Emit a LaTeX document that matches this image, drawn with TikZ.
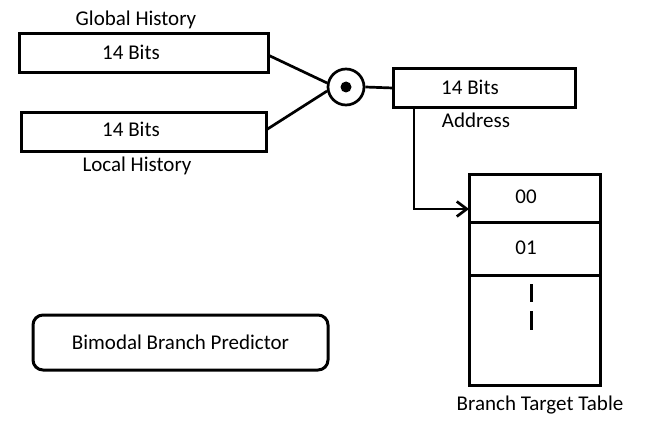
\documentclass[tikz,border=0pt]{standalone}
\usepackage{fontspec}
\setmainfont{Carlito}
\usetikzlibrary{arrows.meta}
\begin{document}
\begin{tikzpicture}[x=1pt,y=-1pt,
  box/.style={draw,line width=3pt,minimum width=#1,inner sep=0pt,outer sep=0pt},
  txt/.style={inner sep=0pt,font=\fontsize{21}{25}\selectfont},
  wire/.style={line width=2.7pt},
]
\useasboundingbox (0,0) rectangle (651,436);
% left boxes
\node[box=249pt,minimum height=39pt] (gh) at (143.5,53.5) {};
\node[txt] (ghbits) at (131,52) {14 Bits};
\node[txt] (ghlab) at (136,20) {Global History};
\node[box=245pt,minimum height=39pt] (lh) at (143.5,131.5) {};
\node[txt] (lhbits) at (131,129) {14 Bits};
\node[txt] (lhlab) at (137,166) {Local History};
% combiner
\node[draw,circle,line width=2.7pt,minimum size=36pt,inner sep=0pt] (circ) at (346,87) {};
\fill (circ.center) circle (5.5pt);
% address
\node[box=182pt,minimum height=38pt] (addr) at (484,88) {};
\node[txt] (addrbits) at (470,87) {14 Bits};
\node[txt] (addrlab) at (476,120) {Address};
% branch target table
\node[box=131pt,minimum height=48pt] (c00) at (534.5,198) {};
\node[box=131pt,minimum height=53pt] (c01) at (534.5,248.5) {};
\node[box=131pt,minimum height=110pt] (crest) at (534.5,330) {};
\node[txt] (t00) at (526,197) {00};
\node[txt] (t01) at (526,248) {01};
\draw[line width=3pt] (531,284) coordinate (d1a) -- (531,302) coordinate (d1b);
\draw[line width=3pt] (531,311) coordinate (d2a) -- (531,330) coordinate (d2b);
\node[txt] (bttlab) at (540,405) {Branch Target Table};
% bimodal
\node[draw,line width=3pt,rounded corners=10pt,minimum width=295pt,minimum height=55pt,inner sep=0pt,font=\fontsize{21}{25}\selectfont] (bim) at (180.5,342.5) {Bimodal Branch Predictor};
% connectors
\draw[wire] ([yshift=-1.5pt]gh.east) -- (circ.168);
\draw[wire] ([yshift=1.5pt]lh.east) -- (circ.192);
\draw[wire] (circ.east) -- (addr.west);
\draw[wire,-{Straight Barb[length=10pt,width=15pt]}] ([xshift=21pt]addr.south west) |- ([yshift=-11pt]c00.west);
\end{tikzpicture}
\end{document}
